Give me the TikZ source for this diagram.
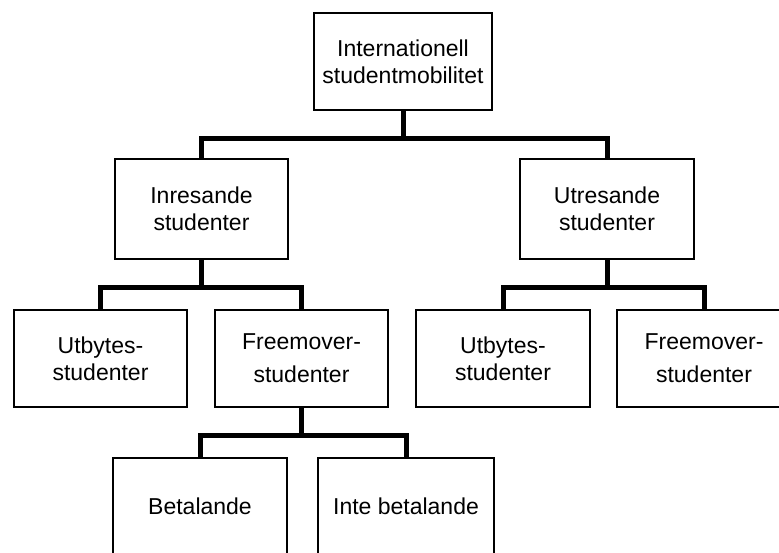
\documentclass[tikz,border=0pt]{standalone}
\usepackage{fontspec}
\setmainfont{Liberation Sans}
\begin{document}
\begin{tikzpicture}[x=1pt, y=-1pt, font=\fontsize{23}{27}\selectfont,
  box/.style={draw=black, line width=1.6pt, fill=white, align=center,
    minimum width=174pt, minimum height=97pt, inner sep=0pt},
  link/.style={line width=5pt}]
\useasboundingbox (0,0) rectangle (779,552);
\clip (0,0) rectangle (779,552);
%boxes
\node[box, minimum width=178pt] (top) at (403,61.5) {Internationell\\studentmobilitet};
\node[box, minimum width=173pt, minimum height=100pt] (inres) at (201.5,209) {Inresande\\studenter};
\node[box, minimum height=100pt] (utres) at (607,209) {Utresande\\studenter};
\node[box, minimum width=173pt] (utb1) at (100.5,358.5) {Utbytes-\\studenter};
\node[box, minimum width=173pt] (free1) at (301.5,358.5) {Freemover-\\[6pt]studenter};
\node[box] (utb2) at (503,358.5) {Utbytes-\\studenter};
\node[box] (free2) at (704,358.5) {Freemover-\\[6pt]studenter};
\node[box] (betal) at (200,506.5) {Betalande};
\node[box, minimum width=176pt] (inte) at (406,506.5) {Inte betalande};
%connectors
\foreach \parent/\kidA/\kidB/\bus in {top/inres/utres/138, inres/utb1/free1/287,
    utres/utb2/free2/287, free1/betal/inte/435}{
  \draw[link] (\parent.south) -- (\parent.south |- 0,\bus);
  \draw[link] (\kidA.north) |- (\parent.south |- 0,\bus) -| (\kidB.north);
}
\end{tikzpicture}
\end{document}
